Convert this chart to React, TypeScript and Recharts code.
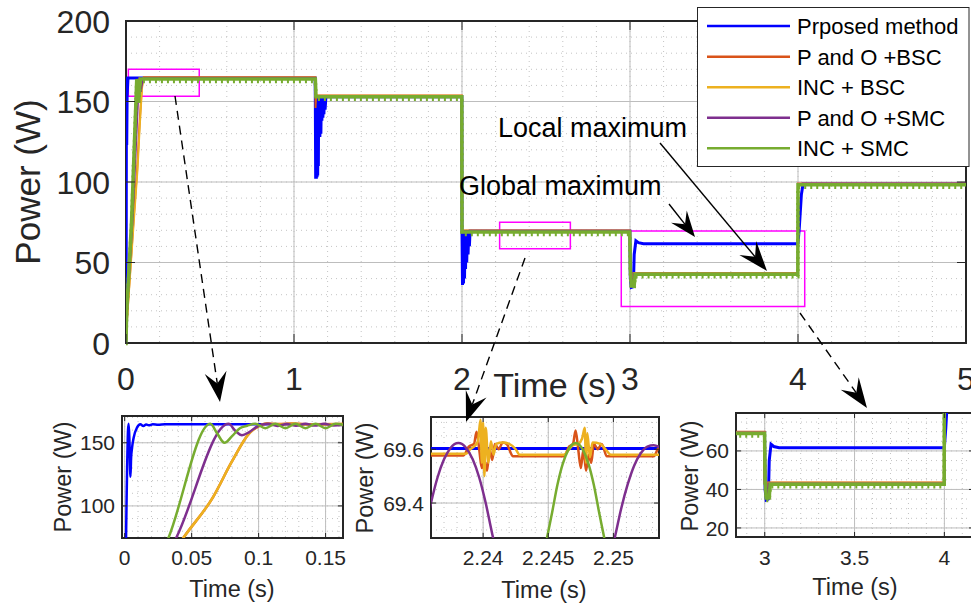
import React from "react"
import { LineChart, Line, XAxis, YAxis, CartesianGrid, ReferenceArea } from "recharts"

type Pt = [number, number]

const FONT = '"Liberation Sans", Arial, Helvetica, sans-serif'
const AXIS = "#262626"

const seriesNames = ["Prposed method", "P and O +BSC", "INC + BSC", "P and O +SMC", "INC + SMC"]
const seriesColors = ["#0000FF", "#D95319", "#EDB120", "#7E2F8E", "#77AC30"]

// whole run, 0-5 s : [time (s), power (W)]
const mainBlue: Pt[] = [
  [0, 0], [0.0008, 20], [0.0025, 163], [0.003, 165], [0.0043, 123], [0.0067, 154], [0.0117, 164.6],
  [1.126, 164.6], [1.127, 150], [1.129, 102], [1.131, 150], [1.133, 102], [1.135, 150], [1.137, 103],
  [1.139, 150], [1.141, 104], [1.143, 152], [1.145, 110], [1.147, 154], [1.149, 128], [1.151, 154],
  [1.154, 128], [1.157, 154], [1.16, 130], [1.163, 154], [1.166, 138], [1.169, 154], [1.172, 140],
  [1.175, 154], [1.178, 142], [1.181, 154], [1.185, 145], [1.19, 153], [1.999, 153], [2.0, 69.6],
  [2.003, 36], [2.006, 69], [2.009, 37], [2.012, 69], [2.015, 40], [2.018, 69], [2.021, 46],
  [2.024, 69], [2.028, 50], [2.032, 69], [2.036, 55], [2.04, 69], [2.044, 60], [2.048, 69.6],
  [2.999, 69.6], [3.002, 40], [3.008, 34.5], [3.02, 35], [3.025, 55], [3.035, 63.5],
  [3.05, 62.3], [3.08, 61.7], [3.996, 61.7], [4.0, 62], [4.008, 72], [4.02, 92], [4.03, 98.8], [5, 98.8],
]
const mainOrange: Pt[] = [
  [0, 0], [0.003, 10], [0.044, 75], [0.066, 107], [0.08, 135], [0.0935, 158], [0.1, 163], [0.105, 165],
  [1.127, 165], [1.128, 146], [1.132, 153.8], [1.999, 153.8], [2.0, 69.8], [2.999, 69.8], [3.001, 44],
  [3.01, 36], [3.02, 43.5], [3.999, 43.5], [4.0, 99], [5, 99],
]
const mainYellow: Pt[] = [
  [0, 0], [0.003, 10], [0.046, 75], [0.068, 107], [0.082, 135], [0.095, 158], [0.101, 163], [0.106, 164.8],
  [1.127, 164.8], [1.131, 153.6], [1.999, 153.6], [2.0, 69.7], [2.999, 69.7], [3.001, 44], [3.012, 36],
  [3.022, 43.3], [3.999, 43.3], [4.0, 98.8], [5, 98.8],
]
const mainPurple: Pt[] = [
  [0, 0], [0.003, 15], [0.0386, 75], [0.0776, 165], [0.0876, 156], [0.1, 164], [0.107, 164.6],
  [1.127, 164.6], [1.131, 153.4], [1.999, 153.4], [2.0, 69.5], [2.999, 69.5], [3.001, 44], [3.015, 35],
  [3.022, 43], [3.999, 43], [4.0, 98.6], [5, 98.6],
]
const mainGreen: Pt[] = [
  [0, 0], [0.004, 20], [0.0328, 75], [0.064, 164], [0.0745, 150], [0.086, 164], [1.127, 164],
  [1.131, 153], [1.999, 153], [2.0, 69], [2.999, 69], [3.002, 45], [3.008, 35.5], [3.025, 35.5],
  [3.03, 42.7], [3.999, 42.7], [4.0, 98.3], [5, 98.3],
]

// start-up, 0-0.16 s
const startBlue: Pt[] = [
  [0, 0], [0.0015, 110], [0.0025, 160], [0.003, 165], [0.0036, 150], [0.0043, 123], [0.0048, 138],
  [0.0055, 146], [0.0067, 154], [0.0092, 162], [0.0117, 164.6], [0.014, 163.3], [0.016, 164.4],
  [0.018, 163.8], [0.021, 164.6], [0.025, 164.2], [0.03, 164.6], [0.17, 164.6],
]
const startOrange: Pt[] = [
  [0, 0], [0.044, 75], [0.066, 107], [0.08, 135], [0.0935, 158], [0.1, 163], [0.106, 165.3],
  [0.115, 164.8], [0.125, 165.2], [0.14, 164.7], [0.17, 165],
]
const startYellow: Pt[] = [
  [0, 0], [0.044, 75], [0.066, 107], [0.08, 135], [0.0935, 158], [0.1, 163], [0.105, 165],
  [0.115, 164.5], [0.125, 165], [0.14, 164.5], [0.17, 165],
]
const startPurple: Pt[] = [
  [0, 0], [0.0386, 75], [0.0776, 165], [0.0826, 159.5], [0.0876, 156], [0.093, 158.5], [0.1, 163.5],
  [0.107, 165], [0.114, 163.3], [0.121, 164.8], [0.128, 163.5], [0.135, 165], [0.142, 163.6],
  [0.149, 165], [0.156, 163.7], [0.17, 164.8],
]
const startGreen: Pt[] = [
  [0, 0], [0.0328, 75], [0.064, 165], [0.069, 157.5], [0.0745, 150], [0.08, 155], [0.086, 161.5],
  [0.0915, 163.5], [0.0975, 165], [0.105, 161.5], [0.1125, 165], [0.12, 161.5], [0.1275, 165],
  [0.135, 161.5], [0.1425, 165], [0.15, 161.5], [0.1575, 165], [0.17, 162],
]

// steady state around 2.24 s
const midBlue: Pt[] = [[2.234, 69.603], [2.256, 69.603]]
const midOrange: Pt[] = [
  [2.234, 69.577], [2.2385, 69.577], [2.2389, 69.61], [2.2393, 69.62], [2.2395, 69.665], [2.2397, 69.6],
  [2.2399, 69.53], [2.2401, 69.56], [2.2403, 69.52], [2.2405, 69.6], [2.2407, 69.56], [2.2409, 69.62],
  [2.2412, 69.6], [2.2415, 69.625], [2.2418, 69.62], [2.2423, 69.574], [2.2462, 69.574], [2.2466, 69.61],
  [2.2469, 69.62], [2.2471, 69.67], [2.2473, 69.6], [2.2475, 69.53], [2.2477, 69.6], [2.2479, 69.52],
  [2.2481, 69.58], [2.2483, 69.55], [2.2485, 69.62], [2.2488, 69.6], [2.2491, 69.62], [2.2495, 69.574],
  [2.2531, 69.574], [2.2534, 69.6], [2.2538, 69.62],
]
const midYellow: Pt[] = [
  [2.234, 69.583], [2.2387, 69.583], [2.239, 69.6], [2.2393, 69.61], [2.2396, 69.63], [2.2398, 69.71],
  [2.2399, 69.55], [2.24, 69.7], [2.2401, 69.5], [2.2402, 69.68], [2.2404, 69.55], [2.2406, 69.63],
  [2.2408, 69.58], [2.241, 69.62], [2.2415, 69.625], [2.242, 69.62], [2.2425, 69.6], [2.2428, 69.58],
  [2.2462, 69.58], [2.2466, 69.6], [2.2469, 69.615], [2.2473, 69.62], [2.2476, 69.64], [2.2478, 69.68],
  [2.2479, 69.55], [2.248, 69.66], [2.2482, 69.57], [2.2484, 69.625], [2.249, 69.62], [2.2494, 69.6],
  [2.2498, 69.58], [2.2538, 69.58],
]
const midPurple: Pt[] = [
  [2.2355, 69.285], [2.236, 69.4], [2.2365, 69.495], [2.237, 69.5625], [2.2375, 69.605], [2.2381, 69.623],
  [2.2387, 69.605], [2.2392, 69.5625], [2.2397, 69.495], [2.2402, 69.4], [2.2407, 69.285], [2.2425, 69.0],
  [2.2455, 68.9], [2.2485, 69.0], [2.2501, 69.27], [2.2506, 69.38], [2.2511, 69.47], [2.2516, 69.54],
  [2.2521, 69.585], [2.2526, 69.61], [2.2531, 69.615], [2.2538, 69.6],
]
const midGreen: Pt[] = [
  [2.234, 68.9], [2.24, 68.8], [2.2435, 68.9], [2.2449, 69.27], [2.2453, 69.366], [2.2457, 69.467],
  [2.2461, 69.544], [2.2465, 69.594], [2.2471, 69.623], [2.2477, 69.594], [2.2481, 69.544],
  [2.2485, 69.467], [2.2489, 69.366], [2.2493, 69.27], [2.2507, 68.9], [2.2538, 68.8],
]

const mainXTicks = [0, 1, 2, 3, 4, 5]
const mainYTicks = [0, 50, 100, 150, 200]
const startXTicks = [0, 0.05, 0.1, 0.15]
const startYTicks = [100, 150]
const midXTicks = [2.24, 2.245, 2.25]
const midYTicks = [69.4, 69.6]
const endXTicks = [3, 3.5, 4]
const endYTicks = [20, 40, 60]

// magenta zoom windows drawn on the main plot: [t1, t2, p1, p2]
const zoomBoxes = [
  [0.014, 0.436, 153.3, 170],
  [2.224, 2.645, 58.5, 75],
  [2.948, 4.04, 22.7, 69.6],
]

const steps = (a: number, b: number, s: number) =>
  Array.from({ length: Math.round((b - a) / s) + 1 }, (_, i) => +(a + i * s).toFixed(6))

const rows = (pts: Pt[]) => pts.map(([t, p]) => ({ t, p }))

interface PanelProps {
  left: number
  top: number
  width: number
  height: number
  margin: { top: number; right: number; bottom: number; left: number }
  yWidth: number
  xHeight: number
  xDomain: [number, number]
  yDomain: [number, number]
  xTicks: number[]
  yTicks: number[]
  xMinor: number[]
  yMinor: number[]
  series: Pt[][]
  widths: number[]
  fontSize: number
  xLabelDy: number
  yLabelGap: number
  tickLen: number
  curve: "linear" | "monotone"
  teeth?: boolean
  boxes?: number[][]
}

function Panel(p: PanelProps) {
  const plotW = p.width - p.margin.left - p.margin.right - p.yWidth
  const plotH = p.height - p.margin.top - p.margin.bottom - p.xHeight

  const XTick = ({ x, y, payload }: any) => (
    <g>
      <line x1={x} y1={y} x2={x} y2={y - p.tickLen} stroke={AXIS} />
      <line x1={x} y1={y - plotH} x2={x} y2={y - plotH + p.tickLen} stroke={AXIS} />
      <text x={x} y={y + p.xLabelDy} textAnchor="middle" fontSize={p.fontSize} fontFamily={FONT} fill={AXIS}>
        {String(payload.value)}
      </text>
    </g>
  )
  const YTick = ({ x, y, payload }: any) => (
    <g>
      <line x1={x} y1={y} x2={x + p.tickLen} y2={y} stroke={AXIS} />
      <line x1={x + plotW} y1={y} x2={x + plotW - p.tickLen} y2={y} stroke={AXIS} />
      <text x={x - p.yLabelGap} y={y + p.fontSize * 0.36} textAnchor="end" fontSize={p.fontSize} fontFamily={FONT} fill={AXIS}>
        {String(payload.value)}
      </text>
    </g>
  )

  return (
    <div style={{ position: "absolute", left: p.left, top: p.top }}>
      <LineChart width={p.width} height={p.height} margin={p.margin}>
        <CartesianGrid verticalValues={p.xMinor} horizontalValues={p.yMinor} stroke="#c4c4c4" strokeDasharray="1 4" />
        <CartesianGrid verticalValues={p.xTicks} horizontalValues={p.yTicks} stroke="#bdbdbd" />
        <XAxis
          type="number"
          dataKey="t"
          domain={p.xDomain}
          allowDataOverflow
          ticks={p.xTicks}
          interval={0}
          height={p.xHeight}
          tickSize={0}
          tickMargin={0}
          axisLine={false}
          tickLine={false}
          tick={XTick}
        />
        <YAxis
          type="number"
          domain={p.yDomain}
          allowDataOverflow
          ticks={p.yTicks}
          interval={0}
          width={p.yWidth}
          tickSize={0}
          tickMargin={0}
          axisLine={false}
          tickLine={false}
          tick={YTick}
        />
        {p.series.map((s, i) => (
          <Line
            key={seriesNames[i]}
            data={rows(s)}
            dataKey="p"
            type={p.curve}
            stroke={seriesColors[i]}
            strokeWidth={p.widths[i]}
            dot={false}
            activeDot={false}
            isAnimationActive={false}
          />
        ))}
        {p.teeth && (
          <Line
            className="ripple-teeth"
            data={rows(p.series[4])}
            dataKey="p"
            type="linear"
            stroke={seriesColors[4]}
            strokeWidth={3.5}
            strokeDasharray="2 4"
            dot={false}
            activeDot={false}
            isAnimationActive={false}
          />
        )}
        {(p.boxes || []).map((b, i) => (
          <ReferenceArea key={i} x1={b[0]} x2={b[1]} y1={b[2]} y2={b[3]} fill="none" stroke="#FF00FF" strokeWidth={1.5} />
        ))}
        <ReferenceArea
          x1={p.xDomain[0]}
          x2={p.xDomain[1]}
          y1={p.yDomain[0]}
          y2={p.yDomain[1]}
          fill="none"
          fillOpacity={0}
          stroke={AXIS}
          strokeWidth={2}
        />
      </LineChart>
    </div>
  )
}

function headPoints(x1: number, y1: number, x2: number, y2: number, len: number, wid: number) {
  const d = Math.hypot(x2 - x1, y2 - y1)
  const ux = (x2 - x1) / d
  const uy = (y2 - y1) / d
  const nx = -uy
  const ny = ux
  const bx = x2 - ux * len
  const by = y2 - uy * len
  const cx = x2 - ux * len * 0.62
  const cy = y2 - uy * len * 0.62
  return {
    pts: `${x2},${y2} ${bx + (nx * wid) / 2},${by + (ny * wid) / 2} ${cx},${cy} ${bx - (nx * wid) / 2},${by - (ny * wid) / 2}`,
    cx,
    cy,
  }
}

const arrows = [
  { x1: 175, y1: 96, x2: 220, y2: 402, dashed: true, len: 30, wid: 22 },
  { x1: 525, y1: 258, x2: 466, y2: 422, dashed: true, len: 30, wid: 22 },
  { x1: 800, y1: 313, x2: 867, y2: 408, dashed: true, len: 30, wid: 22 },
  { x1: 669, y1: 204, x2: 695, y2: 237, dashed: false, len: 26, wid: 20 },
  { x1: 660, y1: 143, x2: 767, y2: 271, dashed: false, len: 30, wid: 22 },
]

const axisLabels = [
  { text: "Power (W)", x: 27, y: 182, size: 35, vertical: true },
  { text: "Time (s)", x: 555, y: 397, size: 34, vertical: false },
  { text: "Power (W)", x: 63, y: 477, size: 23.5, vertical: true },
  { text: "Time (s)", x: 232, y: 597, size: 23.5, vertical: false },
  { text: "Power (W)", x: 365, y: 478, size: 23.5, vertical: true },
  { text: "Time (s)", x: 544, y: 598, size: 23.5, vertical: false },
  { text: "Power (W)", x: 690, y: 476, size: 23.5, vertical: true },
  { text: "Time (s)", x: 855, y: 595, size: 23.5, vertical: false },
]

function Overlay() {
  const rowY = [26, 56.7, 87.3, 117.7, 148.3]
  return (
    <svg width={971} height={606} style={{ position: "absolute", left: 0, top: 0, pointerEvents: "none" }}>
      {axisLabels.map((l, i) =>
        l.vertical ? (
          <text
            key={i}
            transform={`translate(${l.x},${l.y}) rotate(-90)`}
            textAnchor="middle"
            dominantBaseline="central"
            fontSize={l.size}
            fontFamily={FONT}
            fill={AXIS}
          >
            {l.text}
          </text>
        ) : (
          <text key={i} x={l.x} y={l.y} textAnchor="middle" fontSize={l.size} fontFamily={FONT} fill={AXIS}>
            {l.text}
          </text>
        )
      )}

      <text x={498} y={137} fontSize={27} fontFamily={FONT} fill="#000">Local maximum</text>
      <text x={459} y={195} fontSize={27} fontFamily={FONT} fill="#000">Global maximum</text>

      {arrows.map((a, i) => {
        const h = headPoints(a.x1, a.y1, a.x2, a.y2, a.len, a.wid)
        return (
          <g key={i}>
            <line
              x1={a.x1}
              y1={a.y1}
              x2={h.cx}
              y2={h.cy}
              stroke="#000"
              strokeWidth={1.4}
              strokeDasharray={a.dashed ? "9 6" : undefined}
            />
            <polygon points={h.pts} fill="#000" />
          </g>
        )
      })}

      <rect x={697.5} y={7.5} width={271.5} height={159} fill="#fff" stroke={AXIS} strokeWidth={1} />
      {seriesNames.map((n, i) => (
        <g key={n}>
          <line x1={707} y1={rowY[i]} x2={790} y2={rowY[i]} stroke={seriesColors[i]} strokeWidth={2.5} />
          <text x={797} y={rowY[i] + 8} fontSize={22} fontFamily={FONT} fill="#000">
            {n}
          </text>
        </g>
      ))}
    </svg>
  )
}

export default function App() {
  const mainSeries = [mainBlue, mainOrange, mainYellow, mainPurple, mainGreen]
  return (
    <div
      style={{
        position: "absolute",
        left: 0,
        top: 0,
        width: 971,
        height: 606,
        background: "#fff",
        overflow: "hidden",
        fontFamily: FONT,
      }}
    >
      <style>{".ripple-teeth .recharts-line-curve{transform:translateY(2.5px)}"}</style>
      <Panel
        left={0}
        top={0}
        width={971}
        height={400}
        margin={{ top: 21, right: 5, bottom: 0, left: 0 }}
        yWidth={126}
        xHeight={57}
        xDomain={[0, 5]}
        yDomain={[0, 200]}
        xTicks={mainXTicks}
        yTicks={mainYTicks}
        xMinor={steps(0, 5, 0.2)}
        yMinor={steps(0, 200, 10)}
        series={mainSeries}
        widths={[3, 2, 2, 2, 3.5]}
        fontSize={32}
        xLabelDy={47}
        yLabelGap={16}
        tickLen={9}
        curve="linear"
        teeth
        boxes={zoomBoxes}
      />
      <Panel
        left={0}
        top={400}
        width={350}
        height={206}
        margin={{ top: 16, right: 7, bottom: 0, left: 0 }}
        yWidth={122}
        xHeight={68}
        xDomain={[-0.002, 0.163]}
        yDomain={[74.6, 171.2]}
        xTicks={startXTicks}
        yTicks={startYTicks}
        xMinor={steps(0, 0.16, 0.01)}
        yMinor={steps(80, 170, 10)}
        series={[startBlue, startOrange, startYellow, startPurple, startGreen]}
        widths={[2.5, 2.5, 2.5, 2.5, 2.5]}
        fontSize={21}
        xLabelDy={27}
        yLabelGap={7}
        tickLen={5}
        curve="monotone"
      />
      <Panel
        left={380}
        top={400}
        width={290}
        height={206}
        margin={{ top: 17, right: 11, bottom: 0, left: 0 }}
        yWidth={51}
        xHeight={68}
        xDomain={[2.236, 2.2535]}
        yDomain={[69.27, 69.72]}
        xTicks={midXTicks}
        yTicks={midYTicks}
        xMinor={steps(2.236, 2.253, 0.001)}
        yMinor={steps(69.3, 69.7, 0.05)}
        series={[midBlue, midOrange, midYellow, midPurple, midGreen]}
        widths={[3, 2.5, 2.5, 2.5, 2.5]}
        fontSize={21}
        xLabelDy={27}
        yLabelGap={7}
        tickLen={5}
        curve="monotone"
      />
      <Panel
        left={680}
        top={400}
        width={300}
        height={206}
        margin={{ top: 13, right: 6, bottom: 0, left: 0 }}
        yWidth={56}
        xHeight={69}
        xDomain={[2.84, 4.165]}
        yDomain={[15.3, 79.7]}
        xTicks={endXTicks}
        yTicks={endYTicks}
        xMinor={steps(2.9, 4.1, 0.1)}
        yMinor={steps(20, 75, 5)}
        series={mainSeries}
        widths={[3, 2.5, 2.5, 2.5, 3.5]}
        fontSize={21}
        xLabelDy={28}
        yLabelGap={7}
        tickLen={5}
        curve="linear"
        teeth
      />
      <Overlay />
    </div>
  )
}
